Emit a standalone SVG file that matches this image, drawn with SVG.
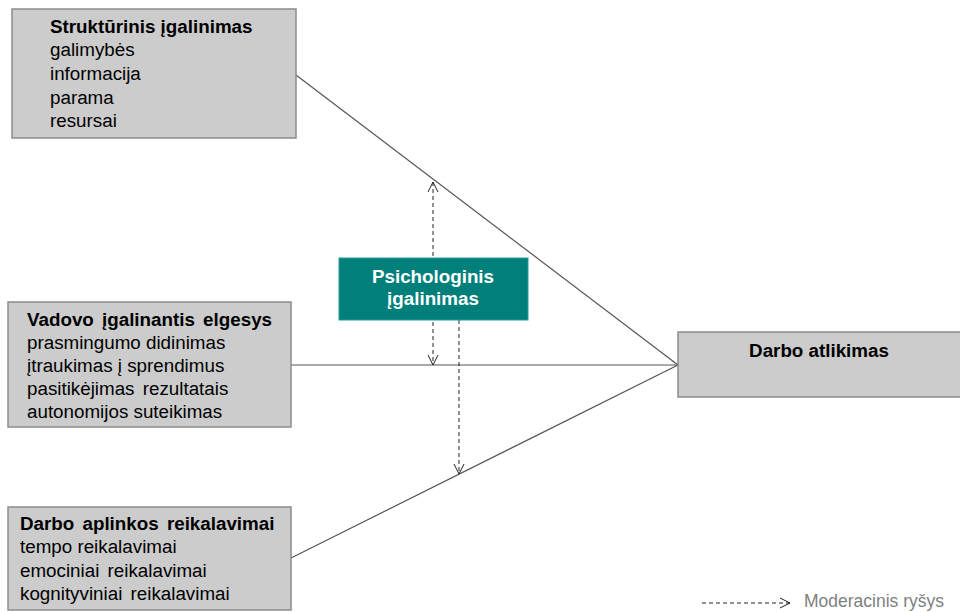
<svg xmlns="http://www.w3.org/2000/svg" width="960" height="612" viewBox="0 0 960 612">
  <style>
    .box { fill: #cccccc; stroke: #8c8c8c; stroke-width: 1.5; }
    .t { font-family: "Liberation Sans", Arial, sans-serif; font-size: 18.8px; fill: #000; }
    .b { font-weight: bold; }
    .ws { word-spacing: 3px; }
    .link { stroke: #555; stroke-width: 1.2; fill: none; }
    .mod { stroke: #222; stroke-width: 1; stroke-dasharray: 4 3; fill: none; }
  </style>
  <defs>
    <marker id="open" viewBox="0 0 12 12" refX="11" refY="6" markerWidth="12" markerHeight="12" markerUnits="userSpaceOnUse" orient="auto-start-reverse">
      <path d="M1,1 L11,6 L1,11" fill="none" stroke="#222" stroke-width="1"/>
    </marker>
  </defs>

  <rect width="960" height="612" fill="#fff"/>

  <g id="connectors">
    <line class="link" x1="296" y1="75" x2="678" y2="365"/>
    <line class="link" x1="291" y1="365" x2="678" y2="365" stroke="#000"/>
    <line class="link" x1="291" y1="558" x2="678" y2="365"/>
    <line class="mod" x1="433" y1="182" x2="433" y2="365" marker-start="url(#open)" marker-end="url(#open)"/>
    <line class="mod" x1="459" y1="320" x2="459" y2="474" marker-end="url(#open)"/>
  </g>

  <g id="strukturinis">
    <rect class="box" x="12" y="9" width="284" height="129"/>
    <text class="t" x="50" y="33"><tspan class="b">Struktūrinis įgalinimas</tspan>
      <tspan x="50" dy="23">galimybės</tspan>
      <tspan x="50" dy="24">informacija</tspan>
      <tspan x="50" dy="24">parama</tspan>
      <tspan x="50" dy="23">resursai</tspan></text>
  </g>

  <g id="vadovo">
    <rect class="box" x="8" y="302" width="283" height="125"/>
    <text class="t" x="27" y="326"><tspan class="b ws">Vadovo įgalinantis elgesys</tspan>
      <tspan x="27" dy="23">prasmingumo didinimas</tspan>
      <tspan x="27" dy="23">įtraukimas į sprendimus</tspan>
      <tspan x="27" dy="23" class="ws">pasitikėjimas rezultatais</tspan>
      <tspan x="27" dy="23">autonomijos suteikimas</tspan></text>
  </g>

  <g id="aplinka">
    <rect class="box" x="8" y="507" width="283" height="103"/>
    <text class="t" x="20" y="530"><tspan class="b ws">Darbo aplinkos reikalavimai</tspan>
      <tspan x="20" dy="23">tempo reikalavimai</tspan>
      <tspan x="20" dy="24" class="ws">emociniai reikalavimai</tspan>
      <tspan x="20" dy="23" class="ws">kognityviniai reikalavimai</tspan></text>
  </g>

  <g id="atlikimas">
    <rect class="box" x="678" y="332" width="284" height="65"/>
    <text class="t b" x="819" y="357" text-anchor="middle">Darbo atlikimas</text>
  </g>

  <g id="psichologinis">
    <rect x="339" y="258" width="189" height="62" fill="#007f7b" stroke="#2a9a96" stroke-width="1"/>
    <text class="t b" x="433" y="283" text-anchor="middle" style="fill:#fff">Psichologinis</text>
    <text class="t b" x="433" y="305" text-anchor="middle" style="fill:#fff">įgalinimas</text>
  </g>

  <g id="legend">
    <line class="mod" x1="702" y1="603" x2="790" y2="603" marker-end="url(#open)"/>
    <text class="t" x="804" y="607" style="fill:#7f7f7f; font-size:17.5px">Moderacinis ryšys</text>
  </g>
</svg>
